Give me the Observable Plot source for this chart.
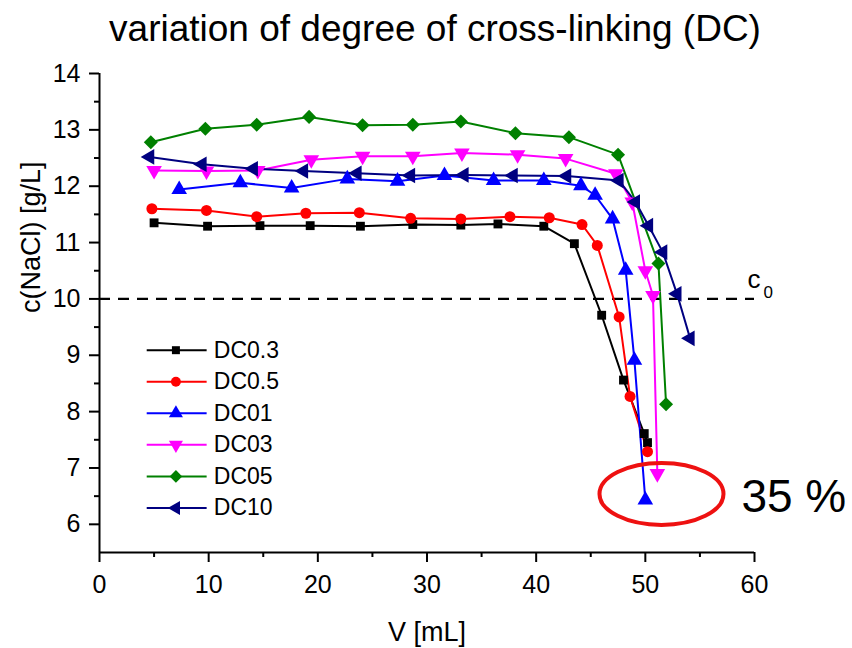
<!DOCTYPE html>
<html>
<head>
<meta charset="utf-8">
<script src="https://cdn.jsdelivr.net/npm/d3@7"></script>
<script src="https://cdn.jsdelivr.net/npm/@observablehq/plot@0.6"></script>
<style>
  html, body { margin: 0; padding: 0; background: white; }
</style>
</head>
<body>
<div id="chart"></div>
<script>
// ---- data ----
const titleText = "variation of degree of cross-linking (DC)";
const xLabel = "V [mL]";
const yLabel = "c(NaCl) [g/L]";

const seriesNames = ["DC0.3", "DC0.5", "DC01", "DC03", "DC05", "DC10"];
const seriesColors = ["#000000", "#ff0000", "#0000ff", "#ff00ff", "#008000", "#000080"];

const v_DC03_ = [5.0, 9.9, 14.7, 19.3, 23.9, 28.7, 33.1, 36.5, 40.7, 43.5, 46.0, 48.0, 49.9, 50.2];
const c_DC03_ = [11.35, 11.29, 11.30, 11.30, 11.29, 11.32, 11.31, 11.33, 11.29, 10.98, 9.71, 8.56, 7.61, 7.45];

const v_DC05_ = [4.8, 9.8, 14.4, 18.9, 23.8, 28.5, 33.1, 37.6, 41.2, 44.2, 45.6, 47.6, 48.6, 50.2];
const c_DC05_ = [11.60, 11.57, 11.46, 11.52, 11.53, 11.43, 11.42, 11.46, 11.44, 11.32, 10.95, 9.68, 8.27, 7.29];

const v_DC01 = [7.3, 12.9, 17.6, 22.7, 27.3, 31.6, 36.1, 40.7, 44.1, 45.4, 47.0, 48.2, 49.0, 50.0];
const c_DC01 = [11.94, 12.06, 11.97, 12.13, 12.09, 12.19, 12.10, 12.10, 12.01, 11.84, 11.42, 10.51, 8.91, 6.43];

const v_DC03 = [5.0, 9.8, 14.5, 19.4, 24.1, 28.7, 33.2, 38.3, 42.7, 47.3, 48.8, 50.0, 50.7, 51.1];
const c_DC03 = [12.28, 12.27, 12.28, 12.47, 12.53, 12.53, 12.59, 12.56, 12.49, 12.22, 11.72, 10.50, 10.06, 6.90];

const v_DC05 = [4.7, 9.7, 14.4, 19.2, 24.1, 28.7, 33.1, 38.1, 43.0, 47.5, 51.2, 51.9];
const c_DC05 = [12.78, 13.02, 13.09, 13.23, 13.08, 13.09, 13.15, 12.94, 12.87, 12.56, 10.63, 8.13];

const v_DC10 = [4.6, 9.4, 14.1, 18.7, 23.6, 28.5, 33.4, 37.9, 42.8, 47.6, 49.1, 50.3, 51.6, 52.9, 54.1];
const c_DC10 = [12.52, 12.39, 12.31, 12.27, 12.23, 12.19, 12.20, 12.19, 12.18, 12.10, 11.72, 11.30, 10.83, 10.09, 9.30];

const xTicks = [0, 10, 20, 30, 40, 50, 60];
const xMinor = [5, 15, 25, 35, 45, 55];
const yTicks = [6, 7, 8, 9, 10, 11, 12, 13, 14];
const yMinor = [6.5, 7.5, 8.5, 9.5, 10.5, 11.5, 12.5, 13.5];

const c0Level = 10;
const annotationText = "35 %";

// ---- symbols ----
const S3 = Math.sqrt(3);
const triDown = {draw(ctx, size) {
  const s = Math.sqrt(size / (S3 * 3));
  ctx.moveTo(0, 2 * s); ctx.lineTo(-S3 * s, -s); ctx.lineTo(S3 * s, -s); ctx.closePath();
}};
const triLeft = {draw(ctx, size) {
  const s = Math.sqrt(size / (S3 * 3));
  ctx.moveTo(-2 * s, 0); ctx.lineTo(s, -S3 * s); ctx.lineTo(s, S3 * s); ctx.closePath();
}};
const diamondSq = {draw(ctx, size) {
  const h = Math.sqrt(size / 2);
  ctx.moveTo(0, -h); ctx.lineTo(h, 0); ctx.lineTo(0, h); ctx.lineTo(-h, 0); ctx.closePath();
}};
const ellipseSym = {draw(ctx, size) {
  const r = Math.sqrt(size / Math.PI), rx = 2 * r, ry = r, k = 0.5523;
  ctx.moveTo(rx, 0);
  ctx.bezierCurveTo(rx, k * ry, k * rx, ry, 0, ry);
  ctx.bezierCurveTo(-k * rx, ry, -rx, k * ry, -rx, 0);
  ctx.bezierCurveTo(-rx, -k * ry, -k * rx, -ry, 0, -ry);
  ctx.bezierCurveTo(k * rx, -ry, rx, -k * ry, rx, 0);
  ctx.closePath();
}};

const seriesSymbols = ["square", "circle", "triangle", triDown, diamondSq, triLeft];
const seriesR = [5, 5.5, 5.8, 5.8, 5.6, 5.8];

const series = [
  [v_DC03_, c_DC03_], [v_DC05_, c_DC05_], [v_DC01, c_DC01],
  [v_DC03, c_DC03], [v_DC05, c_DC05], [v_DC10, c_DC10]
].map(([vs, cs], i) => ({
  name: seriesNames[i], color: seriesColors[i], symbol: seriesSymbols[i], r: seriesR[i],
  data: vs.map((V, j) => ({V, c: cs[j]}))
}));

// legend layout (in data units, inside the frame)
const legRow0 = 9.09, legStep = 0.56;
const legend = seriesNames.map((name, i) => ({name, i, y: legRow0 - i * legStep}));

const FONT = "'Liberation Sans', Arial, Helvetica, sans-serif";

const marks = [];
// c0 dashed line
marks.push(Plot.ruleY([c0Level], {stroke: "black", strokeWidth: 2.2, strokeDasharray: "11,8"}));
// series
for (const s of series) {
  marks.push(Plot.line(s.data, {x: "V", y: "c", stroke: s.color, strokeWidth: 2}));
}
for (const s of series) {
  marks.push(Plot.dot(s.data, {x: "V", y: "c", symbol: s.symbol, r: s.r, fill: s.color, stroke: "none"}));
}
// legend
for (const s of series) {
  const row = legend.filter(d => d.name === s.name);
  marks.push(Plot.ruleY(row, {y: "y", x1: 4.37, x2: 9.86, stroke: s.color, strokeWidth: 2}));
  marks.push(Plot.dot(row, {y: "y", x: 7.0, symbol: s.symbol, r: s.r * 0.9, fill: s.color, stroke: "none"}));
}
marks.push(Plot.text(legend, {x: 10.47, y: "y", text: "name", textAnchor: "start", fontSize: 23, fill: "black"}));

// annotations
marks.push(Plot.text(["c"], {x: 59.36, y: 10.34, textAnchor: "start", fontSize: 26, fill: "black"}));
marks.push(Plot.text(["0"], {x: 60.82, y: 10.12, textAnchor: "start", fontSize: 17, fill: "black"}));
marks.push(Plot.dot([{V: 51.48, c: 6.54}], {x: "V", y: "c", symbol: ellipseSym, r: 31, fill: "none", stroke: "#ee1111", strokeWidth: 4}));
marks.push(Plot.text([annotationText], {x: 58.8, y: 6.48, textAnchor: "start", fontSize: 46, fill: "black"}));

// axes
marks.push(Plot.axisX({ticks: xTicks, tickSize: 10, tickPadding: 13, fontSize: 25, label: null, strokeWidth: 2}));
marks.push(Plot.axisX({ticks: xMinor, tickSize: 5, tickFormat: () => "", label: null, strokeWidth: 2}));
marks.push(Plot.axisY({ticks: yTicks, tickSize: 10, tickPadding: 9, fontSize: 25, label: null, strokeWidth: 2}));
marks.push(Plot.axisY({ticks: yMinor, tickSize: 5, tickFormat: () => "", label: null, strokeWidth: 2}));
marks.push(Plot.ruleX([0], {stroke: "black", strokeWidth: 2}));
marks.push(Plot.ruleY([5.5], {stroke: "black", strokeWidth: 2}));

// axis labels and title
marks.push(Plot.text([xLabel], {frameAnchor: "bottom", dy: 80, fontSize: 27, fill: "black", lineAnchor: "middle"}));
marks.push(Plot.text([yLabel], {frameAnchor: "left", dx: -68, rotate: -90, fontSize: 27, fill: "black", lineAnchor: "middle"}));
marks.push(Plot.text([titleText], {frameAnchor: "top", dx: 8, dy: -44, fontSize: 37, fill: "black", lineAnchor: "middle"}));

const chart = Plot.plot({
  width: 852,
  height: 648,
  marginLeft: 99,
  marginRight: 98,
  marginTop: 73,
  marginBottom: 96,
  x: {domain: [0, 60]},
  y: {domain: [5.5, 14]},
  style: {fontFamily: FONT, color: "black", background: "white", overflow: "visible"},
  marks
});
document.getElementById("chart").appendChild(chart);
</script>
</body>
</html>
